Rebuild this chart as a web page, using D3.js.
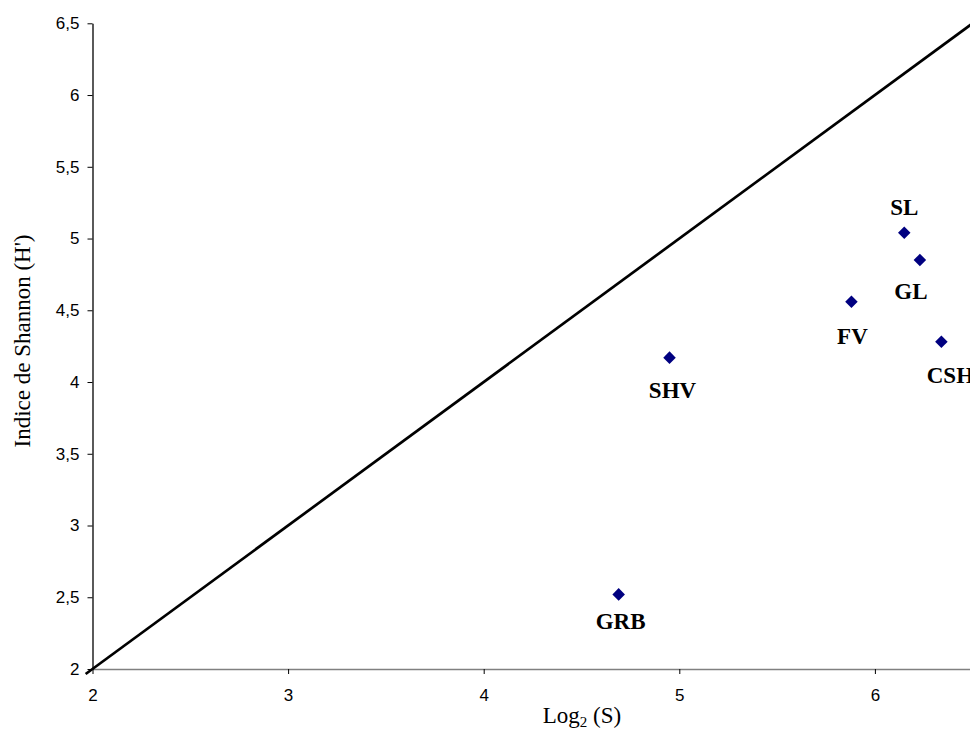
<!DOCTYPE html>
<html>
<head>
<meta charset="utf-8">
<script src="https://cdn.jsdelivr.net/npm/d3@7"></script>
<style>
  html, body { margin: 0; padding: 0; background: #fff; }
  svg { display: block; }
</style>
</head>
<body>
<svg id="chart" width="970" height="729"></svg>
<script>
// ---- data ----
const sites   = ["GRB", "SHV", "FV", "SL", "GL", "CSH"];
const log2S   = [4.69, 4.95, 5.88, 6.15, 6.23, 6.34];
const shannon = [2.52, 4.17, 4.56, 5.04, 4.85, 4.28];
const refLine = [1.965, 6.5];               // H' = log2(S) (max evenness)
const xTicks  = [2, 3, 4, 5, 6];
const yTicks  = [2, 2.5, 3, 3.5, 4, 4.5, 5, 5.5, 6, 6.5];
const xTitle  = "Log";
const yTitle  = "Indice de Shannon (H')";

// ---- label placement (style only) ----
const labelDx   = [2, 3, 1, 0, -9, 9];
const labelDy   = [35, 40, 42, -18, 39, 41];

// ---- layout ----
const svg = d3.select("#chart");
const x = d3.scaleLinear().domain([2, 6.5]).range([92.5, 972.7]);
const y = d3.scaleLinear().domain([2, 6.5]).range([669, 23.3]);
const fmt = d => String(d).replace(".", ",");

// axes
const xAxis = svg.append("g").attr("transform", "translate(0,669)")
  .call(d3.axisBottom(x).tickValues(xTicks).tickFormat(fmt).tickSize(5).tickSizeOuter(0));
xAxis.select(".domain").attr("stroke", "#808080").attr("stroke-width", 1.3);
xAxis.selectAll(".tick line").attr("stroke", "#000");
xAxis.selectAll("text").attr("font-family", "Liberation Sans, Arial, sans-serif")
  .attr("font-size", 17).attr("fill", "#000").attr("dy", "1.4em");

const yAxis = svg.append("g").attr("transform", "translate(92.5,0)")
  .call(d3.axisLeft(y).tickValues(yTicks).tickFormat(fmt).tickSize(5).tickSizeOuter(0));
yAxis.select(".domain").attr("stroke", "#000").attr("stroke-width", 1.3);
yAxis.selectAll(".tick line").attr("stroke", "#000");
yAxis.selectAll("text").attr("font-family", "Liberation Sans, Arial, sans-serif")
  .attr("font-size", 17).attr("fill", "#000").attr("x", -13);

// reference line y = x
svg.append("line")
  .attr("x1", x(refLine[0])).attr("y1", y(refLine[0]))
  .attr("x2", x(refLine[1])).attr("y2", y(refLine[1]))
  .attr("stroke", "#000").attr("stroke-width", 2.7);

// points
const pts = sites.map((s, i) => ({ s, x: log2S[i], y: shannon[i], dx: labelDx[i], dy: labelDy[i] }));
svg.append("g").selectAll("path").data(pts).join("path")
  .attr("d", d3.symbol().type(d3.symbolDiamond2).size(100))
  .attr("transform", d => `translate(${x(d.x)},${y(d.y)})`)
  .attr("fill", "#000080");

svg.append("g").selectAll("text").data(pts).join("text")
  .attr("x", d => x(d.x) + d.dx)
  .attr("y", d => y(d.y) + d.dy)
  .attr("text-anchor", "middle")
  .attr("font-family", "Liberation Serif, Times New Roman, serif")
  .attr("font-weight", "bold").attr("font-size", 23)
  .text(d => d.s);

// axis titles
const xt = svg.append("text").attr("x", 582).attr("y", 723).attr("text-anchor", "middle")
  .attr("font-family", "Liberation Serif, Times New Roman, serif").attr("font-size", 23);
xt.append("tspan").text(xTitle);
xt.append("tspan").attr("font-size", 15).attr("dy", 4).text("2");
xt.append("tspan").attr("dy", -4).text(" (S)");

svg.append("text").attr("transform", "translate(30,341) rotate(-90)")
  .attr("text-anchor", "middle")
  .attr("font-family", "Liberation Serif, Times New Roman, serif").attr("font-size", 23)
  .text(yTitle);
</script>
</body>
</html>
